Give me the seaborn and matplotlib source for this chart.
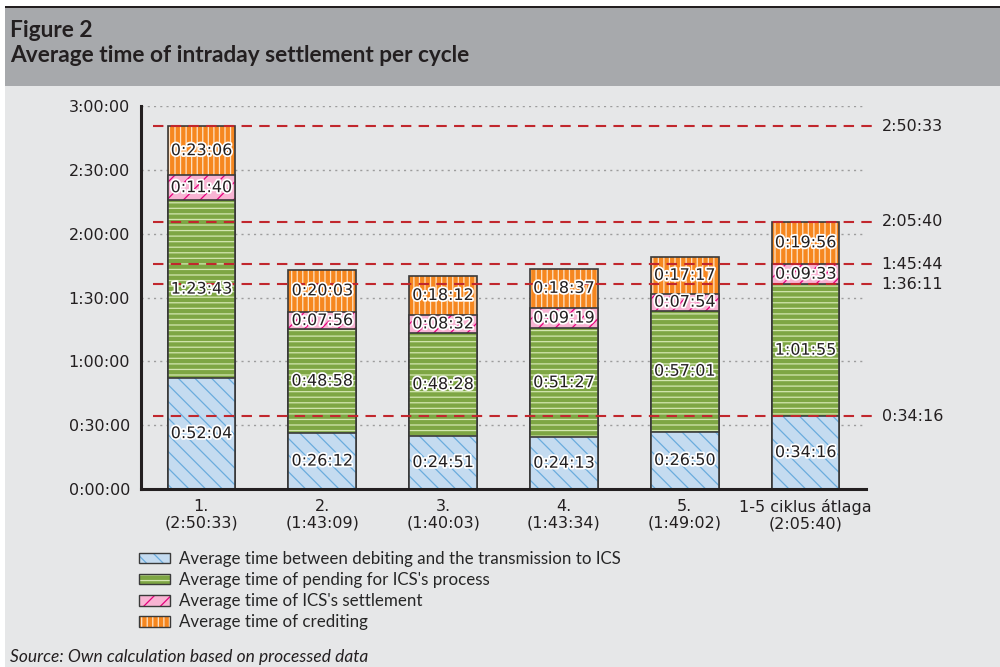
import numpy as np
import pandas as pd
import matplotlib
matplotlib.use('Agg')
import matplotlib.pyplot as plt
import matplotlib.patheffects as pe
from matplotlib.patches import Patch, Rectangle
from matplotlib.ticker import FuncFormatter, MultipleLocator, FixedLocator
import seaborn as sns

#------------------------------------------------
cycles=['1.', '2.', '3.', '4.', '5.', '1-5 ciklus átlaga']
cycle_totals=['2:50:33', '1:43:09', '1:40:03', '1:43:34', '1:49:02', '2:05:40']

debit_to_ics=['0:52:04', '0:26:12', '0:24:51', '0:24:13', '0:26:50', '0:34:16']
pending_ics=['1:23:43', '0:48:58', '0:48:28', '0:51:27', '0:57:01', '1:01:55']
ics_settle=['0:11:40', '0:07:56', '0:08:32', '0:09:19', '0:07:54', '0:09:33']
crediting=['0:23:06', '0:20:03', '0:18:12', '0:18:37', '0:17:17', '0:19:56']

series_names=['Average time between debiting and the transmission to ICS',
              'Average time of pending for ICS\'s process',
              'Average time of ICS\'s settlement',
              'Average time of crediting']

fill_colors=['#c4dbf0', '#7ea644', '#f8b4d3', '#f6871f']
hatch_colors=['#6aacdd', '#d3e6b0', '#e5007d', '#fde3c8']
hatches=['\\\\', '---', '//', '|||']

dark='#231f20'

#------------------------------------------------
def to_sec(s):
    h, m, x=map(int, s.split(':'))
    return h*3600+m*60+x

def fmt_time(sec, pos=None):
    sec=int(round(sec))
    return f'{sec//3600}:{(sec%3600)//60:02d}:{sec%60:02d}'

df=pd.DataFrame({'cycle': cycles,
                 's1': [to_sec(v) for v in debit_to_ics],
                 's2': [to_sec(v) for v in pending_ics],
                 's3': [to_sec(v) for v in ics_settle],
                 's4': [to_sec(v) for v in crediting]})
seg_cols=['s1', 's2', 's3', 's4']
seg_labels=[debit_to_ics, pending_ics, ics_settle, crediting]
cum=df[seg_cols].cumsum(axis=1)

#reference levels: total of cycle 1 and stack levels of the average bar
ref_levels=[cum.iloc[0]['s4']]+list(cum.iloc[-1].values)

#------------------------------------------------
sns.set_style('white')
plt.rcParams['font.family']=['DejaVu Sans']
plt.rcParams['hatch.linewidth']=0.9

fig=plt.figure(figsize=(10, 6.67), dpi=100)
fig.patch.set_facecolor('white')

#page background / header band
fig.add_artist(Rectangle((0.005, 0), 0.995, 581/667, transform=fig.transFigure,
                         facecolor='#e6e7e8', edgecolor='none', zorder=-10))
fig.add_artist(Rectangle((0.005, 581/667), 0.995, 78/667, transform=fig.transFigure,
                         facecolor='#a7a9ac', edgecolor='none', zorder=-10))
fig.add_artist(Rectangle((0.005, 659/667), 0.995, 2.5/667, transform=fig.transFigure,
                         facecolor=dark, edgecolor='none', zorder=-10))

ax=fig.add_axes([0.141, 1-489/667, 0.725, 383/667])
ax.patch.set_alpha(0)

#stacked bars: draw cumulative heights from the top layer down
for i in range(3, -1, -1):
    sns.barplot(x=df['cycle'], y=cum[seg_cols[i]], order=cycles, ax=ax,
                color=fill_colors[i], saturation=1, width=0.56, errorbar=None,
                hatch=hatches[i], edgecolor=hatch_colors[i], linewidth=0, zorder=2)
    sns.barplot(x=df['cycle'], y=cum[seg_cols[i]], order=cycles, ax=ax,
                color='#3a3a3a', fill=False, saturation=1, width=0.56, errorbar=None,
                linewidth=1.2, zorder=2)

#segment labels
for j in range(len(cycles)):
    base=0
    for i, c in enumerate(seg_cols):
        h=df.loc[j, c]
        ax.text(j, base+h/2, seg_labels[i][j], ha='center', va='center',
                fontsize=11.5, color=dark, zorder=5,
                path_effects=[pe.withStroke(linewidth=2.5, foreground='white')])
        base+=h

#reference lines
for lv in ref_levels:
    ax.hlines(lv, -0.40, 5.57, colors='#c1272d', linestyles=(0, (5, 3.5)),
              linewidth=1.5, zorder=4, clip_on=False)
    ax.text(5.63, lv, fmt_time(lv), ha='left', va='center', fontsize=11.5,
            color=dark, clip_on=False)

#axes
ax.set_ylim(0, 3*3600)
ax.set_xlim(-0.5, 5.5)
ax.yaxis.set_major_locator(MultipleLocator(1800))
ax.yaxis.set_major_formatter(FuncFormatter(fmt_time))
ax.yaxis.grid(True, linestyle=(0, (1.5, 3)), color='#9d9d9d', linewidth=1)
ax.set_axisbelow(True)

ax.set_xticks(range(len(cycles)))
ax.set_xticklabels([f'{c}\n({t})' for c, t in zip(cycles, cycle_totals)],
                   fontsize=11.5, color=dark, linespacing=1.15)
ax.xaxis.set_minor_locator(FixedLocator(np.arange(0.5, 6, 1)))
ax.tick_params(axis='x', which='major', length=0, pad=7)
ax.tick_params(axis='x', which='minor', length=5, width=2, color=dark, direction='out')
ax.tick_params(axis='y', which='major', length=5, width=2, color=dark,
               direction='out', labelsize=11.5, labelcolor=dark, pad=3)
ax.set_xlabel('')
ax.set_ylabel('')
for s in ['top', 'right']:
    ax.spines[s].set_visible(False)
for s in ['left', 'bottom']:
    ax.spines[s].set_color(dark)
    ax.spines[s].set_linewidth(2.2)

#legend
handles=[(Patch(facecolor=fill_colors[i], edgecolor=hatch_colors[i], hatch=hatches[i], linewidth=0),
          Patch(facecolor='none', edgecolor='#3a3a3a', linewidth=1.0)) for i in range(4)]
fig.legend(handles, series_names, loc='upper left', bbox_to_anchor=(0.139, 1-551/667),
           frameon=False, handlelength=1.8, handleheight=0.6,
           handletextpad=0.55, labelspacing=0.3, borderpad=0, borderaxespad=0,
           prop={'family': 'Lato', 'size': 12.2})

#titles
fig.text(0.01, 1-37/667, 'Figure 2', fontsize=16.3, fontweight='bold',
         family='Lato', color=dark, va='baseline')
fig.text(0.01, 1-62/667, 'Average time of intraday settlement per cycle', fontsize=16.3,
         fontweight='bold', family='Lato', color=dark, va='baseline')
fig.text(0.01, 1-662/667, 'Source: Own calculation based on processed data', fontsize=12.5,
         style='italic', family='Lato', color=dark, va='baseline')

plt.savefig('out.png', dpi=100)
plt.close()
